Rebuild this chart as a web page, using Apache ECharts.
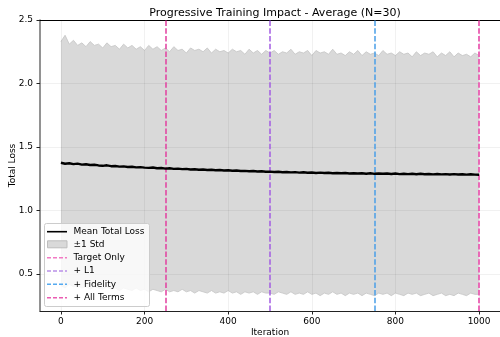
<!DOCTYPE html>
<html><head><meta charset="utf-8">
<script src="https://cdn.jsdelivr.net/npm/echarts@6/dist/echarts.min.js"></script>
<style>html,body{margin:0;padding:0;background:#fff}#c{width:500px;height:337px}</style>
</head><body><div id="c"></div>
<script>
// Sampled every 10 iterations (0..1000)
const meanLoss = [
1.376,1.368,1.372,1.365,1.369,1.361,1.364,1.358,1.360,1.355,
1.352,1.356,1.349,1.351,1.346,1.348,1.343,1.345,1.340,1.342,
1.338,1.336,1.339,1.333,1.335,1.330,1.333,1.328,1.330,1.326,
1.328,1.323,1.325,1.321,1.323,1.319,1.321,1.317,1.319,1.315,
1.317,1.313,1.315,1.311,1.312,1.309,1.311,1.307,1.309,1.305,
1.306,1.303,1.305,1.301,1.303,1.300,1.302,1.298,1.301,1.297,
1.299,1.296,1.298,1.295,1.297,1.294,1.296,1.293,1.295,1.292,
1.294,1.291,1.293,1.290,1.293,1.289,1.292,1.289,1.291,1.288,
1.291,1.287,1.290,1.287,1.289,1.286,1.289,1.286,1.288,1.285,
1.288,1.285,1.287,1.284,1.287,1.284,1.286,1.283,1.286,1.283,1.282];
const upperStd = [
2.33,2.38,2.31,2.34,2.30,2.32,2.29,2.33,2.30,2.31,
2.28,2.32,2.29,2.30,2.27,2.31,2.28,2.30,2.27,2.29,
2.26,2.30,2.27,2.29,2.26,2.28,2.25,2.29,2.26,2.27,
2.24,2.28,2.26,2.27,2.25,2.28,2.24,2.27,2.25,2.26,
2.24,2.27,2.25,2.26,2.23,2.27,2.24,2.26,2.23,2.26,
2.24,2.26,2.23,2.25,2.24,2.27,2.23,2.25,2.24,2.26,
2.22,2.26,2.24,2.25,2.23,2.27,2.23,2.24,2.22,2.25,
2.23,2.26,2.22,2.25,2.23,2.24,2.22,2.26,2.23,2.24,
2.22,2.25,2.23,2.24,2.21,2.25,2.22,2.24,2.23,2.25,
2.21,2.24,2.22,2.25,2.21,2.24,2.22,2.23,2.21,2.24,2.22];
const lowerStd = [
0.41,0.39,0.42,0.40,0.41,0.39,0.40,0.38,0.40,0.39,
0.38,0.40,0.38,0.39,0.37,0.39,0.38,0.37,0.39,0.37,
0.38,0.36,0.38,0.37,0.36,0.38,0.36,0.37,0.36,0.38,
0.36,0.37,0.35,0.37,0.36,0.35,0.37,0.35,0.36,0.35,
0.37,0.35,0.36,0.34,0.36,0.35,0.36,0.34,0.36,0.35,
0.35,0.34,0.36,0.35,0.34,0.36,0.34,0.35,0.34,0.36,
0.34,0.35,0.33,0.35,0.34,0.36,0.34,0.35,0.33,0.35,
0.34,0.35,0.33,0.35,0.34,0.33,0.35,0.34,0.35,0.33,
0.35,0.34,0.33,0.35,0.34,0.35,0.33,0.34,0.35,0.33,
0.34,0.35,0.33,0.34,0.33,0.35,0.34,0.33,0.35,0.34,0.34];
const iterations = meanLoss.map((_, i) => i * 10);
const xTicks = [0, 200, 400, 600, 800, 1000];
const yTicks = [0.5, 1.0, 1.5, 2.0, 2.5];
const phaseNames = ['Target Only', '+ L1', '+ Fidelity', '+ All Terms'];
const phaseIters = [250, 500, 750, 1000];
const phaseColors = ['#e23fa0', '#a25ce2', '#4a9fe8', '#ea5cb2'];
const legendColors = ['#f27ac4', '#b990e8', '#55aaf0', '#ea5cb2'];
const legendLabels = ['Mean Total Loss', '±1 Std'].concat(phaseNames);

const FONT = 'DejaVu Sans';
const series = [];
// band: gray area under upper edge, white area under lower edge
series.push({
  name: '±1 Std', type: 'line', symbol: 'none', z: 2, silent: true,
  data: iterations.map((x, i) => [x, upperStd[i]]),
  lineStyle: { color: '#c4c4c4', width: 0.8 },
  areaStyle: { color: '#d9d9d9', opacity: 1, origin: 'start' }
});
series.push({
  name: 'lowerEdge', type: 'line', symbol: 'none', z: 2, silent: true,
  data: iterations.map((x, i) => [x, lowerStd[i]]),
  lineStyle: { color: '#c4c4c4', width: 0.8 },
  areaStyle: { color: '#ffffff', opacity: 1, origin: 'start' }
});
// grid lines drawn over the band
series.push({
  name: 'gridHelper', type: 'line', data: [], z: 3, silent: true,
  markLine: {
    silent: true, symbol: 'none', label: { show: false },
    lineStyle: { color: 'rgba(0,0,0,0.07)', width: 0.8, type: 'solid' },
    data: xTicks.map(v => ({ xAxis: v })).concat(yTicks.map(v => ({ yAxis: v })))
  }
});
phaseNames.forEach((n, k) => {
  series.push({
    name: n, type: 'line', data: [], z: 4, symbol: 'none', silent: true,
    markLine: {
      silent: true, symbol: 'none', label: { show: false },
      lineStyle: { color: phaseColors[k], type: [5.5, 2.2], width: k === 3 ? 1.8 : 1.5, opacity: 1 },
      data: [{ xAxis: phaseIters[k] }]
    }
  });
});
series.push({
  name: 'Mean Total Loss', type: 'line', symbol: 'none', z: 5, silent: true,
  data: iterations.map((x, i) => [x, meanLoss[i]]),
  lineStyle: { color: '#000', width: 2.4 }
});

// legend drawn as graphic elements
const rowY = [231.7, 244.3, 257.7, 271, 284.3, 297.7];
const graphics = [{
  type: 'rect', z: 100,
  shape: { x: 44.5, y: 223.5, width: 105, height: 83, r: 2 },
  style: { fill: 'rgba(255,255,255,0.82)', stroke: '#cccccc', lineWidth: 1 }
}];
legendLabels.forEach((lab, i) => {
  const y = rowY[i];
  if (i === 0) {
    graphics.push({ type: 'line', z: 101, shape: { x1: 47, y1: y, x2: 67, y2: y },
      style: { stroke: '#000', lineWidth: 1.6 } });
  } else if (i === 1) {
    graphics.push({ type: 'rect', z: 101, shape: { x: 47.5, y: y - 3.5, width: 19.5, height: 7 },
      style: { fill: '#d9d9d9', stroke: '#bdbdbd', lineWidth: 1 } });
  } else {
    graphics.push({ type: 'line', z: 101, shape: { x1: 47, y1: y, x2: 67, y2: y },
      style: { stroke: legendColors[i - 2], lineWidth: 1.5, lineDash: [4, 2] } });
  }
  graphics.push({ type: 'text', z: 101, x: 73.5, y: y,
    style: { text: lab, font: '9px "DejaVu Sans"', fill: '#000', verticalAlign: 'middle', align: 'left' } });
});

const chart = echarts.init(document.getElementById('c'), null, { renderer: 'canvas' });
chart.setOption({
  animation: false,
  backgroundColor: '#fff',
  textStyle: { fontFamily: FONT },
  title: {
    text: 'Progressive Training Impact - Average (N=30)',
    left: 270, top: 3, textAlign: 'center',
    textStyle: { fontFamily: FONT, fontSize: 11, fontWeight: 'normal', color: '#000' }
  },
  grid: { left: 40, right: 0, top: 20, bottom: 26, containLabel: false, outerBoundsMode: 'none' },
  xAxis: [{
    type: 'value', min: -50, max: 1050, position: 'bottom',
    name: 'Iteration', nameLocation: 'middle', nameGap: 17, nameMoveOverlap: false,
    nameTextStyle: { fontFamily: FONT, fontSize: 9, color: '#000' },
    axisLine: { show: true, onZero: false, lineStyle: { color: '#222', width: 1 } },
    axisTick: { show: true, customValues: xTicks, length: 3.5, lineStyle: { color: '#222' } },
    axisLabel: { customValues: xTicks, fontFamily: FONT, fontSize: 9, color: '#000', margin: 6,
      formatter: v => String(v) },
    splitLine: { show: false }
  }, {
    type: 'value', min: -50, max: 1050, position: 'top',
    axisLine: { show: true, onZero: false, lineStyle: { color: '#000', width: 1 } },
    axisTick: { show: false }, axisLabel: { show: false }, splitLine: { show: false }
  }],
  yAxis: {
    type: 'value', min: 0.209, max: 2.5,
    name: 'Total Loss', nameLocation: 'middle', nameGap: 23, nameRotate: 90, nameMoveOverlap: false,
    nameTextStyle: { fontFamily: FONT, fontSize: 9, color: '#000' },
    axisLine: { show: true, onZero: false, lineStyle: { color: '#777', width: 1.6 } },
    axisTick: { show: true, customValues: yTicks, length: 3.5, lineStyle: { color: '#222' } },
    axisLabel: { customValues: yTicks, fontFamily: FONT, fontSize: 9, color: '#000', margin: 7,
      formatter: v => v.toFixed(1) },
    splitLine: { show: false }
  },
  graphic: graphics,
  series: series
});
</script></body></html>
